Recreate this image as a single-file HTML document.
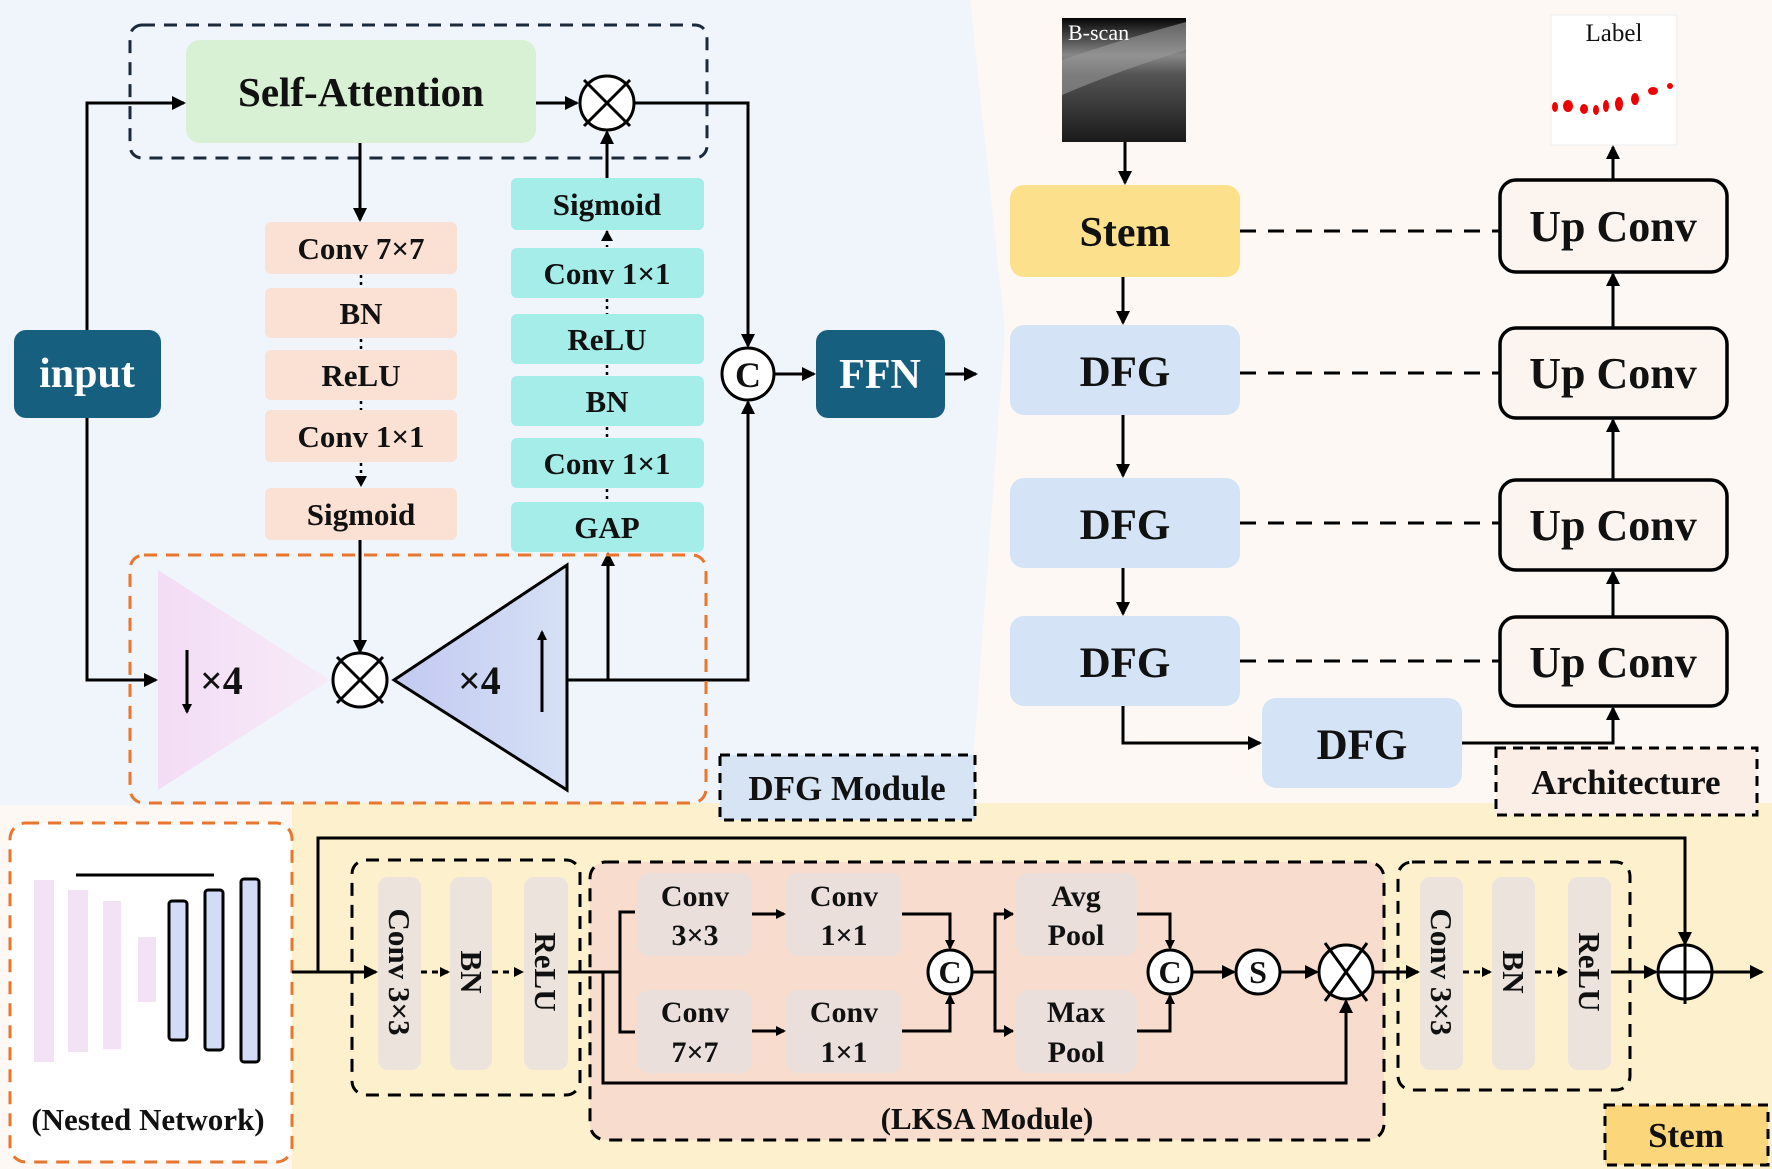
<!DOCTYPE html>
<html><head><meta charset="utf-8"><style>
html,body{margin:0;padding:0;background:#fff}
svg{display:block}
text{font-family:"Liberation Serif",serif;font-weight:bold;fill:#111}
</style></head><body>
<svg width="1772" height="1169" viewBox="0 0 1772 1169" xmlns="http://www.w3.org/2000/svg">
<defs>
<marker id="a" markerWidth="10" markerHeight="10" refX="8" refY="5" orient="auto" markerUnits="userSpaceOnUse"><path d="M0,0 L10,5 L0,10 z" fill="#000"/></marker>
<marker id="b" markerWidth="14" markerHeight="14" refX="12" refY="7" orient="auto" markerUnits="userSpaceOnUse"><path d="M0,0 L14,7 L0,14 z" fill="#000"/></marker>
<linearGradient id="bs" x1="0" y1="0" x2="0" y2="1"><stop offset="0" stop-color="#050505"/><stop offset="0.3" stop-color="#888"/><stop offset="0.45" stop-color="#555"/><stop offset="1" stop-color="#1a1a1a"/></linearGradient>
<linearGradient id="pk" x1="0" y1="0" x2="1" y2="0"><stop offset="0" stop-color="#f3dcf5"/><stop offset="1" stop-color="#f7ebf7"/></linearGradient>
<linearGradient id="bl" x1="0" y1="0" x2="1" y2="0"><stop offset="0" stop-color="#c3c9f2"/><stop offset="1" stop-color="#d6e0f5"/></linearGradient>
</defs>
<rect x="0" y="0" width="1772" height="1169" fill="#fdf8f3"/>
<polygon points="0,0 970,0 1005,330 970,805 0,805" fill="#f0f4fb"/>
<rect x="292" y="803" width="1480" height="366" fill="#fdf0cd"/>

<!-- TOP LEFT -->
<rect x="130" y="25" width="577" height="133" rx="12" fill="none" stroke="#1b2a3a" stroke-width="3" stroke-dasharray="13,9"/>
<rect x="186" y="40" width="350" height="103" rx="14" fill="#d8f0d3"/>
<text x="361" y="106" font-size="41" text-anchor="middle">Self-Attention</text>
<rect x="14" y="330" width="147" height="88" rx="12" fill="#175f7e"/>
<text x="87" y="387" font-size="42" text-anchor="middle" style="fill:#fff">input</text>
<g stroke="#000" stroke-width="3" fill="none">
<polyline points="87,330 87,103 184,103" marker-end="url(#b)"/>
<polyline points="87,418 87,680 156,680" marker-end="url(#b)"/>
<line x1="536" y1="103" x2="577" y2="103" marker-end="url(#b)"/>
<polyline points="634,103 748,103 748,346" marker-end="url(#b)"/>
<line x1="360" y1="143" x2="360" y2="220" marker-end="url(#b)"/>
<line x1="607" y1="178" x2="607" y2="132" marker-end="url(#b)"/>
<line x1="360" y1="540" x2="360" y2="652" marker-end="url(#b)"/>
<polyline points="567,680 748,680 748,402" marker-end="url(#b)"/>
<line x1="608" y1="680" x2="608" y2="554" marker-end="url(#b)"/>
<line x1="774" y1="374" x2="814" y2="374" marker-end="url(#b)"/>
<line x1="945" y1="374" x2="976" y2="374" marker-end="url(#b)"/>
</g>
<g fill="#fbe0d4">
<rect x="265" y="222" width="192" height="52" rx="6"/>
<rect x="265" y="288" width="192" height="50" rx="6"/>
<rect x="265" y="350" width="192" height="50" rx="6"/>
<rect x="265" y="410" width="192" height="52" rx="6"/>
<rect x="265" y="488" width="192" height="52" rx="6"/>
</g>
<g font-size="31" text-anchor="middle">
<text x="361" y="259">Conv 7×7</text>
<text x="361" y="324">BN</text>
<text x="361" y="386">ReLU</text>
<text x="361" y="447">Conv 1×1</text>
<text x="361" y="525">Sigmoid</text>
</g>
<g stroke="#000" stroke-width="2.5" stroke-dasharray="3,4"><line x1="361" y1="275" x2="361" y2="288"/><line x1="361" y1="339" x2="361" y2="350"/><line x1="361" y1="401" x2="361" y2="410"/><line x1="361" y1="463" x2="361" y2="478"/></g>
<path d="M355,476 L367,476 L361,487 z" fill="#000"/>
<g fill="#a5ede9">
<rect x="511" y="178" width="193" height="52" rx="6"/>
<rect x="511" y="248" width="193" height="50" rx="6"/>
<rect x="511" y="314" width="193" height="50" rx="6"/>
<rect x="511" y="376" width="193" height="50" rx="6"/>
<rect x="511" y="438" width="193" height="50" rx="6"/>
<rect x="511" y="502" width="193" height="50" rx="6"/>
</g>
<g font-size="31" text-anchor="middle">
<text x="607" y="215">Sigmoid</text>
<text x="607" y="284">Conv 1×1</text>
<text x="607" y="350">ReLU</text>
<text x="607" y="412">BN</text>
<text x="607" y="474">Conv 1×1</text>
<text x="607" y="538">GAP</text>
</g>
<g stroke="#000" stroke-width="2.5" stroke-dasharray="3,4"><line x1="607" y1="231" x2="607" y2="247"/><line x1="607" y1="299" x2="607" y2="314"/><line x1="607" y1="365" x2="607" y2="376"/><line x1="607" y1="427" x2="607" y2="438"/><line x1="607" y1="489" x2="607" y2="502"/></g>
<path d="M601,241 L613,241 L607,230 z" fill="#000"/>
<rect x="130" y="555" width="576" height="248" rx="14" fill="none" stroke="#e8762e" stroke-width="3" stroke-dasharray="13,9"/>
<polygon points="158,570 330,680 158,790" fill="url(#pk)"/>
<polygon points="394,680 567,565 567,790" fill="url(#bl)" stroke="#000" stroke-width="3"/>
<line x1="187" y1="650" x2="187" y2="712" stroke="#000" stroke-width="3" marker-end="url(#a)"/>
<text x="200" y="694" font-size="40">×4</text>
<text x="458" y="694" font-size="40">×4</text>
<line x1="542" y1="712" x2="542" y2="632" stroke="#000" stroke-width="3" marker-end="url(#a)"/>
<g stroke="#000" stroke-width="3" fill="#fff">
<circle cx="607" cy="103" r="27"/><line x1="584" y1="80" x2="630" y2="126"/><line x1="630" y1="80" x2="584" y2="126"/>
<circle cx="360" cy="680" r="27"/><line x1="337" y1="657" x2="383" y2="703"/><line x1="383" y1="657" x2="337" y2="703"/>
<circle cx="748" cy="374" r="26"/>
</g>
<text x="748" y="387" font-size="36" text-anchor="middle">C</text>
<rect x="816" y="330" width="129" height="88" rx="12" fill="#175f7e"/>
<text x="880" y="388" font-size="42" text-anchor="middle" style="fill:#fff">FFN</text>
<rect x="720" y="755" width="255" height="65" fill="#d7e4f4" stroke="#000" stroke-width="3" stroke-dasharray="10,7"/>
<text x="847" y="800" font-size="35" text-anchor="middle">DFG Module</text>

<!-- TOP RIGHT -->
<rect x="1062" y="18" width="124" height="124" fill="url(#bs)"/>
<path d="M1062,60 Q1120,40 1186,22 L1186,50 Q1120,70 1062,95 z" fill="#999" opacity="0.6"/>
<text x="1068" y="40" font-size="22" style="fill:#fff;font-weight:normal">B-scan</text>
<rect x="1551" y="15" width="126" height="130" fill="#fff" stroke="#eee"/>
<text x="1614" y="41" font-size="25" text-anchor="middle" style="font-weight:normal">Label</text>
<g fill="#e00">
<ellipse cx="1555" cy="107" rx="3" ry="5"/><ellipse cx="1568" cy="106" rx="5" ry="6"/><ellipse cx="1584" cy="109" rx="4" ry="5"/><ellipse cx="1596" cy="110" rx="3" ry="5"/><ellipse cx="1606" cy="106" rx="3" ry="6"/><ellipse cx="1619" cy="104" rx="4" ry="7"/><ellipse cx="1635" cy="99" rx="4" ry="6"/><ellipse cx="1653" cy="91" rx="5" ry="4"/><ellipse cx="1670" cy="86" rx="3" ry="3"/>
</g>
<rect x="1010" y="185" width="230" height="92" rx="14" fill="#fde08b"/>
<text x="1125" y="246" font-size="42" text-anchor="middle">Stem</text>
<g fill="#d4e4f6">
<rect x="1010" y="325" width="230" height="90" rx="14"/>
<rect x="1010" y="478" width="230" height="90" rx="14"/>
<rect x="1010" y="616" width="230" height="90" rx="14"/>
<rect x="1262" y="698" width="200" height="90" rx="14"/>
</g>
<g font-size="43" text-anchor="middle">
<text x="1125" y="386">DFG</text><text x="1125" y="539">DFG</text><text x="1125" y="677">DFG</text><text x="1362" y="759">DFG</text>
</g>
<g fill="#fcf5ef" stroke="#000" stroke-width="3.5">
<rect x="1500" y="180" width="227" height="92" rx="16"/>
<rect x="1500" y="328" width="227" height="90" rx="16"/>
<rect x="1500" y="480" width="227" height="90" rx="16"/>
<rect x="1500" y="617" width="227" height="89" rx="16"/>
</g>
<g font-size="44" text-anchor="middle">
<text x="1613" y="241">Up Conv</text><text x="1613" y="388">Up Conv</text><text x="1613" y="540">Up Conv</text><text x="1613" y="677">Up Conv</text>
</g>
<g stroke="#000" stroke-width="3" fill="none">
<line x1="1125" y1="142" x2="1125" y2="183" marker-end="url(#b)"/>
<line x1="1123" y1="277" x2="1123" y2="323" marker-end="url(#b)"/>
<line x1="1123" y1="415" x2="1123" y2="476" marker-end="url(#b)"/>
<line x1="1123" y1="568" x2="1123" y2="614" marker-end="url(#b)"/>
<polyline points="1123,706 1123,743 1260,743" marker-end="url(#b)"/>
<polyline points="1462,743 1613,743 1613,708" marker-end="url(#b)"/>
<line x1="1613" y1="617" x2="1613" y2="572" marker-end="url(#b)"/>
<line x1="1613" y1="480" x2="1613" y2="420" marker-end="url(#b)"/>
<line x1="1613" y1="328" x2="1613" y2="274" marker-end="url(#b)"/>
<line x1="1613" y1="180" x2="1613" y2="147" marker-end="url(#b)"/>
<g stroke-dasharray="16,12"><line x1="1240" y1="231" x2="1500" y2="231"/><line x1="1240" y1="373" x2="1500" y2="373"/><line x1="1240" y1="523" x2="1500" y2="523"/><line x1="1240" y1="661" x2="1500" y2="661"/></g>
</g>
<rect x="1496" y="748" width="261" height="67" fill="#fbeee6" stroke="#000" stroke-width="3" stroke-dasharray="10,7"/>
<text x="1626" y="794" font-size="35" text-anchor="middle">Architecture</text>

<!-- BOTTOM -->
<rect x="10" y="823" width="282" height="339" rx="16" fill="#fff" stroke="#e8762e" stroke-width="3" stroke-dasharray="13,9"/>
<g fill="#f3e2f5"><rect x="34" y="880" width="20" height="182"/><rect x="68" y="890" width="20" height="162"/><rect x="103" y="901" width="18" height="148"/><rect x="138" y="937" width="18" height="65"/></g>
<line x1="76" y1="875" x2="214" y2="875" stroke="#000" stroke-width="3"/>
<g fill="#d2dcf6" stroke="#000" stroke-width="3"><rect x="169" y="901" width="18" height="139" rx="3"/><rect x="205" y="890" width="18" height="160" rx="3"/><rect x="241" y="879" width="18" height="183" rx="3"/></g>
<text x="148" y="1130" font-size="31" text-anchor="middle">(Nested Network)</text>

<rect x="590" y="862" width="794" height="278" rx="16" fill="#f8dccd" stroke="#000" stroke-width="3" stroke-dasharray="13,9"/>
<rect x="352" y="860" width="228" height="235" rx="14" fill="none" stroke="#000" stroke-width="3" stroke-dasharray="13,9"/>
<rect x="1398" y="862" width="232" height="228" rx="14" fill="none" stroke="#000" stroke-width="3" stroke-dasharray="13,9"/>
<g fill="#ebe3dc">
<rect x="378" y="877" width="43" height="193" rx="10"/><rect x="450" y="877" width="42" height="193" rx="10"/><rect x="524" y="877" width="44" height="193" rx="10"/>
<rect x="1420" y="877" width="43" height="193" rx="10"/><rect x="1492" y="877" width="43" height="193" rx="10"/><rect x="1568" y="877" width="43" height="193" rx="10"/>
</g>
<g font-size="31" text-anchor="middle">
<text transform="translate(389,972) rotate(90)">Conv 3×3</text>
<text transform="translate(461,972) rotate(90)">BN</text>
<text transform="translate(535,972) rotate(90)">ReLU</text>
<text transform="translate(1431,972) rotate(90)">Conv 3×3</text>
<text transform="translate(1503,972) rotate(90)">BN</text>
<text transform="translate(1579,972) rotate(90)">ReLU</text>
</g>
<g fill="#ebdfdb">
<rect x="637" y="873" width="115" height="83" rx="12"/><rect x="786" y="873" width="116" height="83" rx="12"/>
<rect x="637" y="990" width="115" height="83" rx="12"/><rect x="786" y="990" width="116" height="83" rx="12"/>
<rect x="1016" y="873" width="121" height="83" rx="12"/><rect x="1016" y="990" width="121" height="83" rx="12"/>
</g>
<g font-size="30" text-anchor="middle">
<text x="695" y="906">Conv</text><text x="695" y="945">3×3</text>
<text x="844" y="906">Conv</text><text x="844" y="945">1×1</text>
<text x="695" y="1022">Conv</text><text x="695" y="1062">7×7</text>
<text x="844" y="1022">Conv</text><text x="844" y="1062">1×1</text>
<text x="1076" y="906">Avg</text><text x="1076" y="945">Pool</text>
<text x="1076" y="1022">Max</text><text x="1076" y="1062">Pool</text>
</g>
<text x="987" y="1129" font-size="31" text-anchor="middle">(LKSA Module)</text>
<g stroke="#000" stroke-width="3" fill="none">
<polyline points="292,972 318,972 318,838 1685,838 1685,944" marker-end="url(#b)"/>
<line x1="292" y1="972" x2="376" y2="972" marker-end="url(#b)"/>
<line x1="421" y1="972" x2="448" y2="972" stroke-dasharray="6,5" marker-end="url(#a)"/>
<line x1="492" y1="972" x2="522" y2="972" stroke-dasharray="6,5" marker-end="url(#a)"/>
<line x1="568" y1="972" x2="620" y2="972"/>
<polyline points="635,912 620,912 620,1032 635,1032"/>
<polyline points="603,972 603,1083 1346,1083 1346,1001" marker-end="url(#b)"/>
<line x1="752" y1="914" x2="784" y2="914" marker-end="url(#a)"/>
<line x1="752" y1="1031" x2="784" y2="1031" marker-end="url(#a)"/>
<polyline points="902,914 950,914 950,948" marker-end="url(#a)"/>
<polyline points="902,1031 950,1031 950,996" marker-end="url(#a)"/>
<line x1="972" y1="972" x2="995" y2="972"/>
<polyline points="1013,914 995,914 995,1031 1013,1031"/>
<path d="M1004,908 L1014,914 L1004,920 z M1004,1025 L1014,1031 L1004,1037 z" fill="#000" stroke="none"/>
<polyline points="1137,914 1170,914 1170,948" marker-end="url(#a)"/>
<polyline points="1137,1031 1170,1031 1170,996" marker-end="url(#a)"/>
<line x1="1192" y1="972" x2="1234" y2="972" marker-end="url(#b)"/>
<line x1="1280" y1="972" x2="1317" y2="972" marker-end="url(#b)"/>
<line x1="1373" y1="972" x2="1418" y2="972" marker-end="url(#b)"/>
<line x1="1463" y1="972" x2="1490" y2="972" stroke-dasharray="6,5" marker-end="url(#a)"/>
<line x1="1535" y1="972" x2="1566" y2="972" stroke-dasharray="6,5" marker-end="url(#a)"/>
<line x1="1611" y1="972" x2="1656" y2="972" marker-end="url(#b)"/>
<line x1="1712" y1="972" x2="1762" y2="972" marker-end="url(#b)"/>
</g>
<g stroke="#000" stroke-width="3" fill="#fff">
<circle cx="950" cy="972" r="22"/><circle cx="1170" cy="972" r="22"/><circle cx="1258" cy="972" r="22"/>
<circle cx="1346" cy="972" r="27"/><line x1="1325" y1="943" x2="1367" y2="1001"/><line x1="1367" y1="943" x2="1325" y2="1001"/>
<circle cx="1685" cy="972" r="27"/><line x1="1685" y1="940" x2="1685" y2="1004"/><line x1="1658" y1="972" x2="1712" y2="972"/>
</g>
<g font-size="32" text-anchor="middle"><text x="950" y="983">C</text><text x="1170" y="983">C</text><text x="1258" y="983">S</text></g>
<rect x="1605" y="1105" width="163" height="60" fill="#fcd67b" stroke="#000" stroke-width="3" stroke-dasharray="10,7"/>
<text x="1686" y="1147" font-size="35" text-anchor="middle">Stem</text>
</svg>
</body></html>
